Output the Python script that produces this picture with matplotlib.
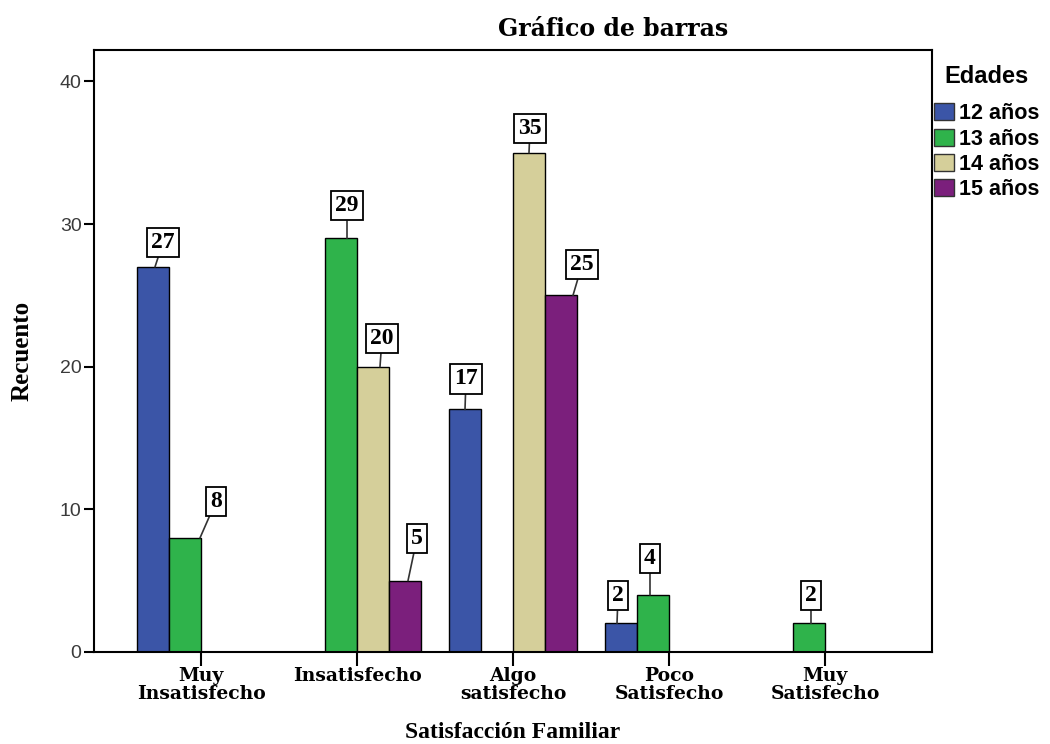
import matplotlib.pyplot as plt
import numpy as np

# Datos
categorias = ['Muy\nInsatisfecho', 'Insatisfecho', 'Algo\nsatisfecho', 'Poco\nSatisfecho', 'Muy\nSatisfecho']
edades = ['12 años', '13 años', '14 años', '15 años']
v12 = [27, 0, 17, 2, 0]
v13 = [8, 29, 0, 4, 2]
v14 = [0, 20, 35, 0, 0]
v15 = [0, 5, 25, 0, 0]
colores = ['#3b55a7', '#2fb34b', '#d5cf9a', '#7b1f7c']

serie = [v12, v13, v14, v15]

# posición de cada etiqueta (px): (ancla de la línea, centro de la caja, hueco sobre la barra)
etiq_pos = {
    (0, 0): (2, 10, 10), (1, 0): (15, 31, 22),
    (1, 1): (6, 6, 18), (2, 1): (7, 9, 14), (3, 1): (3, 12, 28),
    (0, 2): (0, 1, 16), (2, 2): (0, 1, 10), (3, 2): (12, 21, 16),
    (0, 3): (-4, -3, 13), (1, 3): (-3, -3, 22),
    (1, 4): (2, 2, 13),
}

fig = plt.figure(figsize=(10.5, 7.44), dpi=100)
ax = fig.add_axes([94/1050, 1 - 652/744, (932-94)/1050, (652-50)/744])

x = np.arange(len(categorias))
w = 32/156
px = 1/156  # un píxel en unidades del eje x
pt = 0.72   # puntos por píxel
for i, vals in enumerate(serie):
    pos = x + (i - 1.5) * w
    ax.bar(pos, vals, w, color=colores[i], edgecolor='black', linewidth=1.0, label=edades[i])
    for j, v in enumerate(vals):
        if v == 0:
            continue
        a, b, g = etiq_pos[(i, j)]
        ax.annotate(str(v), xy=(pos[j] + a*px, v), xytext=((b - a)*pt, (g + 14.5)*pt),
                    textcoords='offset points', ha='center', va='center',
                    fontsize=17, fontweight='bold', family='Liberation Serif',
                    bbox=dict(boxstyle='square,pad=0.17', fc='white', ec='black', lw=1.3),
                    arrowprops=dict(arrowstyle='-', color='#333333', lw=1.2, shrinkA=0, shrinkB=0))

ax.set_xlim(-0.686, 4.686)
ax.set_ylim(0, 42.2)
ax.set_yticks([0, 10, 20, 30, 40])
ax.set_xticks(x)
ax.set_xticklabels(categorias, fontsize=13.5, fontweight='bold', family='DejaVu Serif',
                   linespacing=1.0)
for lab in ax.get_yticklabels():
    lab.set_family('Liberation Sans')
    lab.set_fontsize(14)
    lab.set_color('#3a3a3a')
ax.tick_params(axis='y', direction='out', length=7, width=1.5, pad=2)
ax.tick_params(axis='x', direction='out', length=10, width=1.5, pad=1)
for s in ax.spines.values():
    s.set_linewidth(1.5)

ax.set_ylabel('Recuento', fontsize=18, fontweight='bold', family='Liberation Serif', va='center')
ax.yaxis.set_label_coords((22 - 94)/838, 0.5)
ax.set_xlabel('Satisfacción Familiar', fontsize=17, fontweight='bold', family='Liberation Serif',
              va='center')
ax.xaxis.set_label_coords(0.5, (652 - 733)/602)
fig.text(613/1050, 1 - 29/744, 'Gráfico de barras', ha='center', va='center',
         fontsize=17, fontweight='bold', family='DejaVu Serif')

h, l = ax.get_legend_handles_labels()
leg = fig.legend(h, l, title='Edades', loc='upper left', bbox_to_anchor=(934/1050, 1 - 65/744),
                 frameon=False, prop={'family': 'Liberation Sans', 'weight': 'bold', 'size': 15.5},
                 handlelength=0.93, handleheight=0.84, handletextpad=0.25, labelspacing=0.2,
                 borderaxespad=0, borderpad=0)
leg.get_title().set_fontsize(17)
leg.get_title().set_fontweight('bold')
leg.get_title().set_family('Liberation Sans')
leg._legend_box.sep = 11
for p in leg.get_patches():
    p.set_edgecolor('#333333')

fig.savefig('out.png', dpi=100)
